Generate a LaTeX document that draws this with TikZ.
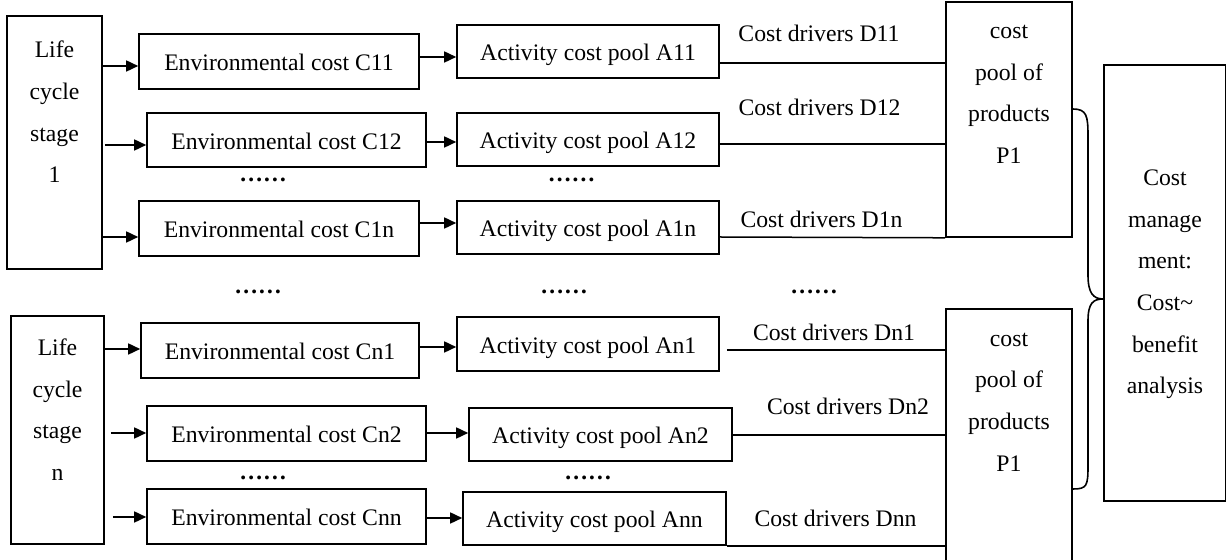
\documentclass[tikz,border=0pt]{standalone}
\usepackage{fontspec}
\setmainfont{Liberation Serif}
\usetikzlibrary{fit,calc,arrows.meta}
\newcommand\dfont{\fontsize{11.85}{20.8}\selectfont}
\begin{document}
\begin{tikzpicture}[x=0.5pt,y=-0.5pt,
  frame/.style={draw,line width=0.8pt,inner sep=0pt},
  btx/.style={font=\dfont,inner sep=0pt,text height=7.8pt,text depth=0pt,yshift=-0.8pt},
  tx/.style={font=\dfont,align=center,inner sep=0pt},
  lab/.style={font=\dfont,inner sep=0pt,text height=7.8pt,text depth=0pt},
  dots/.style={font=\dfont\bfseries,inner sep=0pt},
  arr/.style={-{Triangle[length=6pt,width=5.5pt]},line width=0.8pt},
  ln/.style={line width=0.75pt}]
\useasboundingbox (0,0) rectangle (1227,560);
\clip (0,0) rectangle (1227,560);
\fill[white] (0,0) rectangle (1227,560);
% stage boxes
\node[frame,fit={(7,16)(102,269)}] (s1) {};
\node[tx] (s1t) at (54.5,112) {Life\\cycle\\stage\\1};
\node[frame,fit={(11,316)(104,544)}] (sn) {};
\node[tx] (snt) at (57.5,409.5) {Life\\cycle\\stage\\n};
% environmental cost boxes
\node[frame,fit={(139,34)(419,89)}] (c11) {};
\node[btx] (c11t) at (c11) {Environmental cost C11};
\node[frame,fit={(147,113)(426,167)}] (c12) {};
\node[btx] (c12t) at (c12) {Environmental cost C12};
\node[frame,fit={(139,201)(419,256)}] (c1n) {};
\node[btx] (c1nt) at (c1n) {Environmental cost C1n};
\node[frame,fit={(141,323)(419,378)}] (cn1) {};
\node[btx] (cn1t) at (cn1) {Environmental cost Cn1};
\node[frame,fit={(147,406)(426,461)}] (cn2) {};
\node[btx] (cn2t) at (cn2) {Environmental cost Cn2};
\node[frame,fit={(147,489)(426,544)}] (cnn) {};
\node[btx] (cnnt) at (cnn) {Environmental cost Cnn};
% activity boxes
\node[frame,fit={(457,25)(719,78)}] (a11) {};
\node[btx] (a11t) at (a11) {Activity cost pool A11};
\node[frame,fit={(457,113)(719,166)}] (a12) {};
\node[btx] (a12t) at (a12) {Activity cost pool A12};
\node[frame,fit={(457,201)(719,254)}] (a1n) {};
\node[btx] (a1nt) at (a1n) {Activity cost pool A1n};
\node[frame,fit={(457,317)(719,371)}] (an1) {};
\node[btx] (an1t) at (an1) {Activity cost pool An1};
\node[frame,fit={(469,408)(732,461)}] (an2) {};
\node[btx] (an2t) at (an2) {Activity cost pool An2};
\node[frame,fit={(463,492)(726,545)}] (ann) {};
\node[btx] (annt) at (ann) {Activity cost pool Ann};
% product pools
\node[frame,fit={(946,2)(1072,237)}] (p1) {};
\node[tx] (p1t) at (1009,94.5) {cost\\pool of\\products\\P1};
\node[frame,fit={(946,309)(1072,566)}] (p2) {};
\node[tx] (p2t) at (1009,402) {cost\\pool of\\products\\P1};
% cost management
\node[frame,fit={(1104,65)(1225.5,501)}] (cm) {};
\node[tx] (cmt) at (1165,284.5) {Cost\\manage\\ment:\\Cost\textasciitilde\\benefit\\analysis};
% arrows stage -> env
\draw[arr] (s1.east |- 0,66) -- (c11.west |- 0,66);
\draw[arr] ($(s1.east |- 0,145)+(2,0)$) -- (c12.west |- 0,145);
\draw[arr] (s1.east |- 0,237) -- (c1n.west |- 0,237);
\draw[arr] (sn.east |- 0,349) -- (cn1.west |- 0,349);
\draw[arr] ($(sn.east |- 0,433)+(6,0)$) -- (cn2.west |- 0,433);
\draw[arr] ($(sn.east |- 0,517)+(8,0)$) -- (cnn.west |- 0,517);
% arrows env -> activity
\draw[arr] (c11.east |- 0,57) -- (a11.west |- 0,57);
\draw[arr] (c12.east |- 0,142) -- (a12.west |- 0,142);
\draw[arr] (c1n.east |- 0,223) -- (a1n.west |- 0,223);
\draw[arr] (cn1.east |- 0,347) -- (an1.west |- 0,347);
\draw[arr] (cn2.east |- 0,433) -- (an2.west |- 0,433);
\draw[arr] (cnn.east |- 0,518) -- (ann.west |- 0,518);
% cost driver lines
\draw[ln] (a11.east |- 0,63) -- (p1.west |- 0,63);
\draw[ln] (a12.east |- 0,144) -- (p1.west |- 0,144);
\draw[ln] (a1n.east |- 0,237) -- (p1.south west);
\draw[ln] ($(an1.east |- 0,350)+(7,0)$) -- (p2.west |- 0,350);
\draw[ln] (an2.east |- 0,435) -- (p2.west |- 0,435);
\draw[ln] (ann.south east) -- (p2.west |- ann.south east);
% cost driver labels
\node[lab] (d11) at (819,34) {Cost drivers D11};
\node[lab] (d12) at (819.5,108) {Cost drivers D12};
\node[lab] (d1n) at (821.5,220) {Cost drivers D1n};
\node[lab] (dn1) at (834,333) {Cost drivers Dn1};
\node[lab] (dn2) at (848,407) {Cost drivers Dn2};
\node[lab] (dnn) at (835.5,519) {Cost drivers Dnn};
% ellipses
\node[dots] (e1) at (263,180) {……};
\node[dots] (e2) at (571.5,180) {……};
\node[dots] (e3) at (258,292) {……};
\node[dots] (e4) at (564,292) {……};
\node[dots] (e5) at (814,292) {……};
\node[dots] (e6) at (263,478) {……};
\node[dots] (e7) at (588,478) {……};
% brace
\coordinate (b1) at (p1.east |- 0,109);
\coordinate (bm) at (cm.west |- 0,299);
\coordinate (b2) at (p2.east |- 0,489);
\draw[line width=0.8pt] (b1) .. controls +(14,0) and +(0,-20) .. (1088,136) -- (1088,275)
  .. controls +(0,18) and +(-10,0) .. (bm)
  .. controls +(-10,0) and +(0,-18) .. (1088,321) -- (1088,466)
  .. controls +(0,20) and +(14,0) .. (b2);
\end{tikzpicture}
\end{document}
